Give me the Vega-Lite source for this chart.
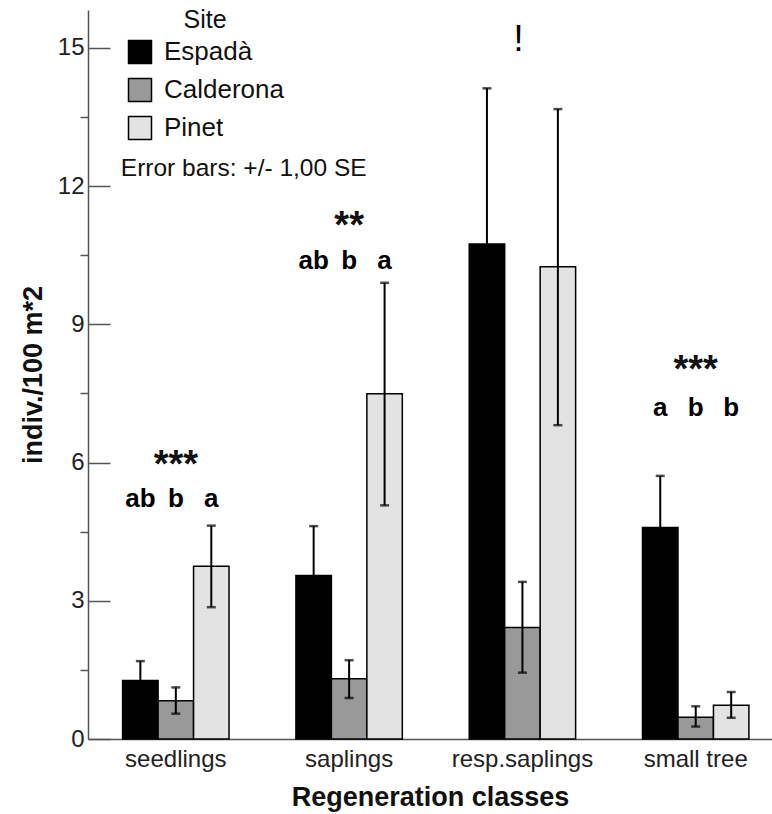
{
  "$schema": "https://vega.github.io/schema/vega-lite/v6.json",
  "width": 684,
  "height": 729,
  "autosize": {"type": "none"},
  "padding": {"left": 88, "top": 10, "right": 0, "bottom": 75},
  "background": "white",
  "config": {"view": {"stroke": null}, "font": "Liberation Sans"},
  "datasets": {
    "bars": [
      {"class": "seedlings", "site": "Espadà", "mean": 1.27, "lo": 0.85, "hi": 1.69},
      {"class": "seedlings", "site": "Calderona", "mean": 0.83, "lo": 0.55, "hi": 1.12},
      {"class": "seedlings", "site": "Pinet", "mean": 3.75, "lo": 2.86, "hi": 4.63},
      {"class": "saplings", "site": "Espadà", "mean": 3.55, "lo": 2.48, "hi": 4.62},
      {"class": "saplings", "site": "Calderona", "mean": 1.31, "lo": 0.89, "hi": 1.71},
      {"class": "saplings", "site": "Pinet", "mean": 7.49, "lo": 5.07, "hi": 9.9},
      {"class": "resp.saplings", "site": "Espadà", "mean": 10.74, "lo": 7.36, "hi": 14.12},
      {"class": "resp.saplings", "site": "Calderona", "mean": 2.42, "lo": 1.44, "hi": 3.41},
      {"class": "resp.saplings", "site": "Pinet", "mean": 10.25, "lo": 6.81, "hi": 13.67},
      {"class": "small tree", "site": "Espadà", "mean": 4.59, "lo": 3.47, "hi": 5.71},
      {"class": "small tree", "site": "Calderona", "mean": 0.47, "lo": 0.27, "hi": 0.71},
      {"class": "small tree", "site": "Pinet", "mean": 0.73, "lo": 0.46, "hi": 1.02}
    ],
    "letters": [
      {"class": "seedlings", "site": "Espadà", "label": "ab", "y": 5.03},
      {"class": "seedlings", "site": "Calderona", "label": "b", "y": 5.03},
      {"class": "seedlings", "site": "Pinet", "label": "a", "y": 5.03},
      {"class": "saplings", "site": "Espadà", "label": "ab", "y": 10.2},
      {"class": "saplings", "site": "Calderona", "label": "b", "y": 10.2},
      {"class": "saplings", "site": "Pinet", "label": "a", "y": 10.2},
      {"class": "small tree", "site": "Espadà", "label": "a", "y": 7.01},
      {"class": "small tree", "site": "Calderona", "label": "b", "y": 7.01},
      {"class": "small tree", "site": "Pinet", "label": "b", "y": 7.01}
    ],
    "stars": [
      {"class": "seedlings", "label": "***", "y": 5.68},
      {"class": "saplings", "label": "**", "y": 10.88},
      {"class": "small tree", "label": "***", "y": 7.75}
    ],
    "flags": [
      {"class": "resp.saplings", "label": "!", "y": 14.93}
    ],
    "notes": [
      {"class": "seedlings", "label": "Error bars: +/- 1,00 SE", "y": 12.38}
    ]
  },
  "layer": [
    {
      "data": {"name": "bars"},
      "mark": {"type": "bar", "stroke": "black", "strokeWidth": 1.5},
      "encoding": {
        "x": {
          "field": "class", "type": "nominal",
          "sort": ["seedlings", "saplings", "resp.saplings", "small tree"],
          "scale": {"paddingInner": 0.386, "paddingOuter": 0.1665, "align": 0.6},
          "axis": {
            "title": "Regeneration classes", "ticks": false, "labelAngle": 0,
            "labelFontSize": 24, "labelPadding": 8, "labelColor": "#222",
            "domainColor": "#555", "domainWidth": 1.5,
            "titleFontSize": 27, "titleFontWeight": "bold", "titlePadding": 13, "titleColor": "#111"
          }
        },
        "xOffset": {
          "field": "site", "type": "nominal",
          "sort": ["Espadà", "Calderona", "Pinet"],
          "scale": {"paddingInner": 0, "paddingOuter": 0}
        },
        "y": {
          "field": "mean", "type": "quantitative", "title": "indiv./100 m*2",
          "scale": {"domain": [0, 15.82], "nice": false},
          "axis": {
            "values": [0, 1.5, 3, 4.5, 6, 7.5, 9, 10.5, 12, 13.5, 15],
            "labelExpr": "datum.value % 3 == 0 ? format(datum.value, 'd') : ''",
            "tickSize": {"condition": {"test": "datum.value % 3 == 0", "value": -22}, "value": 8},
            "grid": false,
            "domainColor": "#555", "domainWidth": 1.5,
            "tickColor": "#555", "tickWidth": 1.5,
            "labelFontSize": 24, "labelColor": "#222", "labelPadding": 26,
            "titleFontSize": 27, "titleFontWeight": "bold", "titlePadding": 10, "titleColor": "#111"
          }
        },
        "color": {
          "field": "site", "type": "nominal",
          "sort": ["Espadà", "Calderona", "Pinet"],
          "scale": {"domain": ["Espadà", "Calderona", "Pinet"], "range": ["#000000", "#999999", "#e3e3e3"]},
          "legend": {
            "title": "Site", "orient": "none", "legendX": 39, "legendY": -2,
            "titleFontSize": 25, "titleFontWeight": "normal", "titleAnchor": "middle", "titleColor": "#111", "titlePadding": 6,
            "labelFontSize": 26, "labelColor": "#111", "labelOffset": 11,
            "symbolType": "square", "symbolSize": 529, "symbolStrokeColor": "black", "symbolStrokeWidth": 1.5,
            "symbolOpacity": 1, "rowPadding": 8, "padding": 0
          }
        }
      }
    },
    {
      "data": {"name": "bars"},
      "mark": {"type": "rule", "color": "black", "strokeWidth": 2},
      "encoding": {
        "x": {"field": "class", "type": "nominal", "sort": ["seedlings", "saplings", "resp.saplings", "small tree"]},
        "xOffset": {"field": "site", "type": "nominal", "sort": ["Espadà", "Calderona", "Pinet"]},
        "y": {"field": "lo", "type": "quantitative", "title": "indiv./100 m*2"},
        "y2": {"field": "hi"}
      }
    },
    {
      "data": {"name": "bars"},
      "mark": {"type": "tick", "color": "black", "size": 9, "thickness": 2.5},
      "encoding": {
        "x": {"field": "class", "type": "nominal", "sort": ["seedlings", "saplings", "resp.saplings", "small tree"]},
        "xOffset": {"field": "site", "type": "nominal", "sort": ["Espadà", "Calderona", "Pinet"]},
        "y": {"field": "hi", "type": "quantitative", "title": "indiv./100 m*2"}
      }
    },
    {
      "data": {"name": "bars"},
      "mark": {"type": "tick", "color": "black", "size": 9, "thickness": 2.5},
      "encoding": {
        "x": {"field": "class", "type": "nominal", "sort": ["seedlings", "saplings", "resp.saplings", "small tree"]},
        "xOffset": {"field": "site", "type": "nominal", "sort": ["Espadà", "Calderona", "Pinet"]},
        "y": {"field": "lo", "type": "quantitative", "title": "indiv./100 m*2"}
      }
    },
    {
      "data": {"name": "letters"},
      "mark": {"type": "text", "fontSize": 26, "fontWeight": "bold", "baseline": "alphabetic", "align": "center", "color": "black"},
      "encoding": {
        "x": {"field": "class", "type": "nominal", "sort": ["seedlings", "saplings", "resp.saplings", "small tree"]},
        "xOffset": {"field": "site", "type": "nominal", "sort": ["Espadà", "Calderona", "Pinet"]},
        "y": {"field": "y", "type": "quantitative", "title": "indiv./100 m*2"},
        "text": {"field": "label"}
      }
    },
    {
      "data": {"name": "stars"},
      "mark": {"type": "text", "fontSize": 38, "fontWeight": "bold", "baseline": "alphabetic", "align": "center", "color": "#111"},
      "encoding": {
        "x": {"field": "class", "type": "nominal", "sort": ["seedlings", "saplings", "resp.saplings", "small tree"]},
        "y": {"field": "y", "type": "quantitative", "title": "indiv./100 m*2"},
        "text": {"field": "label"}
      }
    },
    {
      "data": {"name": "flags"},
      "mark": {"type": "text", "fontSize": 36, "baseline": "alphabetic", "align": "center", "color": "black", "dx": -4},
      "encoding": {
        "x": {"field": "class", "type": "nominal", "sort": ["seedlings", "saplings", "resp.saplings", "small tree"]},
        "y": {"field": "y", "type": "quantitative", "title": "indiv./100 m*2"},
        "text": {"field": "label"}
      }
    },
    {
      "data": {"name": "notes"},
      "mark": {"type": "text", "fontSize": 24.5, "baseline": "middle", "align": "left", "color": "#111", "dx": -55},
      "encoding": {
        "x": {"field": "class", "type": "nominal", "sort": ["seedlings", "saplings", "resp.saplings", "small tree"]},
        "y": {"field": "y", "type": "quantitative", "title": "indiv./100 m*2"},
        "text": {"field": "label"}
      }
    }
  ]
}
